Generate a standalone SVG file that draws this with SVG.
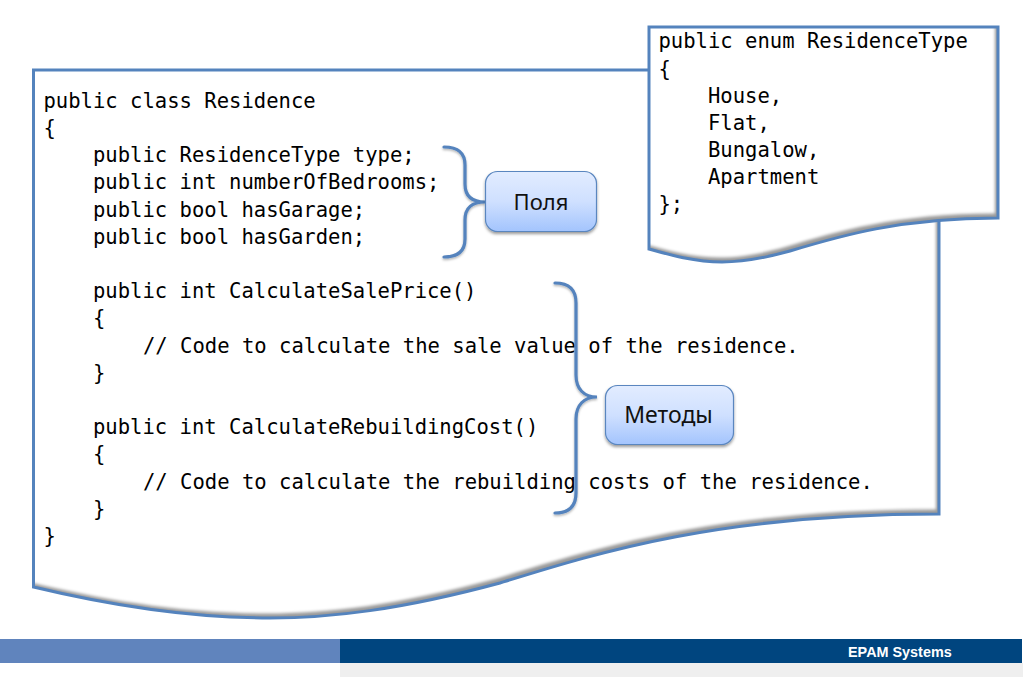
<svg xmlns="http://www.w3.org/2000/svg" width="1023" height="677" viewBox="0 0 1023 677">
<style>
.code{font-family:"DejaVu Sans Mono","Liberation Mono",monospace;font-size:20.55px;fill:#000;white-space:pre}
.lbl{font-family:"Noto Sans","Liberation Sans",sans-serif;fill:#111;text-anchor:middle}
.edge{fill:none;stroke:#5483bd;stroke-width:3;stroke-linejoin:miter}
.brace{fill:none;stroke:#5483bd;stroke-width:3.2;stroke-linecap:round;filter:url(#bs)}
.box{fill:url(#bg);stroke:#5a86bf;stroke-width:1.2;filter:url(#ss)}
</style>
<defs>
<linearGradient id="bg" x1="0" y1="0" x2="0" y2="1"><stop offset="0" stop-color="#e2ecff"/><stop offset="0.5" stop-color="#cfe0ff"/><stop offset="1" stop-color="#a3c4fd"/></linearGradient>
<filter id="blur" x="-5%" y="-5%" width="110%" height="110%"><feGaussianBlur stdDeviation="1.6"/></filter>
<filter id="ss" x="-10%" y="-10%" width="120%" height="130%"><feDropShadow dx="0" dy="2" stdDeviation="1.8" flood-color="#000" flood-opacity="0.4"/></filter>
<filter id="bs" x="-30%" y="-10%" width="160%" height="120%"><feDropShadow dx="0" dy="1.5" stdDeviation="1.2" flood-color="#000" flood-opacity="0.3"/></filter>
<path id="mainP" d="M33.500 70 H939 V514 C720 514 600 552 500 583 C400 610 330 618 270 618 C180 618 100 603 33.500 587 Z"/>
<path id="enumP" d="M649 27 H998 V218 C900 218 840 236 790 251 C765 258 745 262 722 262 C695 262 670 255 649 249 Z"/>
<clipPath id="mainC"><use href="#mainP"/></clipPath>
<clipPath id="enumC"><use href="#enumP"/></clipPath>
</defs>
<rect width="1023" height="677" fill="#fff"/>
<g id="footer">
<rect x="0" y="639" width="340" height="24" fill="#6084bd"/>
<rect x="340" y="639" width="682" height="24" fill="#00457f"/>
<rect x="340" y="663" width="683" height="14" fill="#efefef"/>
<text x="848" y="657" font-family="'Liberation Sans',Arial,sans-serif" font-weight="700" font-size="14.400" fill="#fff">EPAM Systems</text>
</g>
<g id="residence-class">
<g clip-path="url(#mainC)"><rect x="30" y="60" width="915" height="565" fill="#999"/><use href="#mainP" fill="#fff" transform="translate(-3 -4.500)" filter="url(#blur)"/></g>
<use href="#mainP" class="edge"/>
<text class="code" x="43.500" y="108">public class Residence</text>
<text class="code" x="43.500" y="135">{</text>
<text class="code" x="93" y="162">public ResidenceType type;</text>
<text class="code" x="93" y="189">public int numberOfBedrooms;</text>
<text class="code" x="93" y="217">public bool hasGarage;</text>
<text class="code" x="93" y="244">public bool hasGarden;</text>
<text class="code" x="93" y="298">public int CalculateSalePrice()</text>
<text class="code" x="93" y="325">{</text>
<text class="code" x="143" y="353">// Code to calculate the sale value of the residence.</text>
<text class="code" x="93" y="380">}</text>
<text class="code" x="93" y="434">public int CalculateRebuildingCost()</text>
<text class="code" x="93" y="461">{</text>
<text class="code" x="143" y="489">// Code to calculate the rebuilding costs of the residence.</text>
<text class="code" x="93" y="516">}</text>
<text class="code" x="43.500" y="543">}</text>
</g>
<g id="residence-type">
<g clip-path="url(#enumC)"><rect x="640" y="20" width="365" height="250" fill="#999"/><use href="#enumP" fill="#fff" transform="translate(-3 -4.500)" filter="url(#blur)"/></g>
<use href="#enumP" class="edge"/>
<text class="code" x="658.500" y="48">public enum ResidenceType</text>
<text class="code" x="658.500" y="76">{</text>
<text class="code" x="708" y="103">House,</text>
<text class="code" x="708" y="130">Flat,</text>
<text class="code" x="708" y="157">Bungalow,</text>
<text class="code" x="708" y="184">Apartment</text>
<text class="code" x="658.500" y="211">};</text>
</g>
<g id="connectors">
<path class="brace" d="M444 147 C458 147 465 153 465 165 V184 C465 196 472 202 485 202 C472 202 465 208 465 220 V239 C465 251 458 257 444 257"/>
<path class="brace" d="M555 283 C569 283 576 290 576 303 V375 C576 389 584 397 597 397 C584 397 576 405 576 419 V493 C576 506 569 513 555 513"/>
</g>
<g id="fields">
<rect class="box" x="485.500" y="171.500" width="111" height="60" rx="12"/>
<text class="lbl" font-size="22" x="541" y="210">Поля</text>
</g>
<g id="methods">
<rect class="box" x="605.500" y="385.500" width="128" height="59" rx="12"/>
<text class="lbl" font-size="23" x="668.500" y="423">Методы</text>
</g>
</svg>
